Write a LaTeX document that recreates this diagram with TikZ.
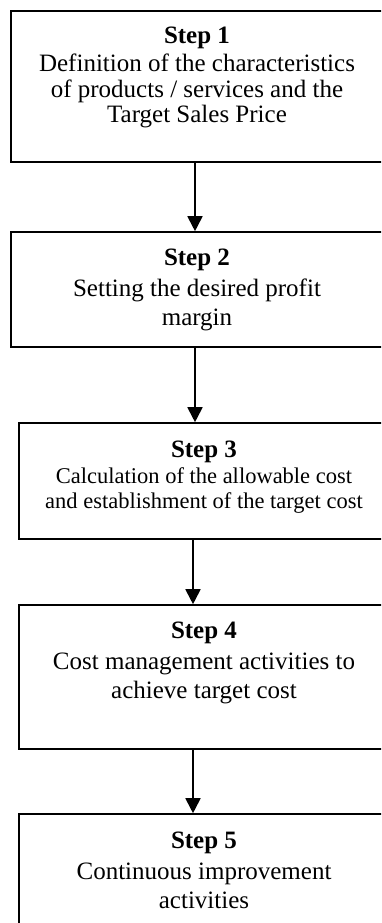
\documentclass[tikz,border=0pt]{standalone}
\usepackage{fontspec}
\setmainfont{Liberation Serif}
\usetikzlibrary{arrows.meta}
\usetikzlibrary{positioning}

\tikzset{
  stepbox/.style={draw=black, line width=1.6pt, minimum width=370pt, inner sep=0pt},
  steptext/.style={align=center, inner sep=0pt, font=\fontsize{25}{29}\selectfont},
  steparrow/.style={line width=1.8pt, -{Triangle[width=15pt,length=15pt]}}
}

\begin{document}
\begin{tikzpicture}[x=1pt, y=-1pt]
          \useasboundingbox (0,0) rectangle (381,923);
          \clip (0,0) rectangle (381,923);

          \node [stepbox, minimum width=372pt, minimum height=151pt] (s1) at (197,86.5) {}; % Draws a box
          \node [stepbox, minimum width=372pt, minimum height=115pt] (s2) at (197,289.5) {}; % Draws a box
          \node [stepbox, minimum height=116pt] (s3) at (204,481) {}; % Draws a box
          \node [stepbox, minimum height=144pt] (s4) at (204,677) {}; % Draws a box
          \node [stepbox, minimum height=150pt] (s5) at (204,889) {}; % Draws a box

          \node [steptext, font=\fontsize{25}{25.3}\selectfont, below=17pt of s1.north] (t1) {\textbf{Step 1}\\[2.5pt]Definition of the characteristics\\of products / services and the\\Target Sales Price};
          \node [steptext, below=18pt of s2.north] (t2) {\textbf{Step 2}\\[2pt]Setting the desired profit\\margin};
          \node [steptext, font=\fontsize{22.5}{24.5}\selectfont, below=19pt of s3.north] (t3) {{\fontsize{25}{25}\selectfont\textbf{Step 3}}\\[1.5pt]Calculation of the allowable cost\\and establishment of the target cost};
          \node [steptext, below=18pt of s4.north] (t4) {\textbf{Step 4}\\[2pt]Cost management activities to\\achieve target cost};
          \node [steptext, below=19pt of s5.north] (t5) {\textbf{Step 5}\\[2pt]Continuous improvement\\activities};

          \draw [steparrow] ([xshift=-2pt]s1.south) to ([xshift=-2pt]s2.north);
          \draw [steparrow] ([xshift=-2pt]s2.south) to ([xshift=-2pt]s3.north -| s2.south);
          \draw [steparrow] ([xshift=-11pt]s3.south) to ([xshift=-11pt]s4.north);
          \draw [steparrow] ([xshift=-11pt]s4.south) to ([xshift=-11pt]s5.north);
        \end{tikzpicture}
\end{document}
